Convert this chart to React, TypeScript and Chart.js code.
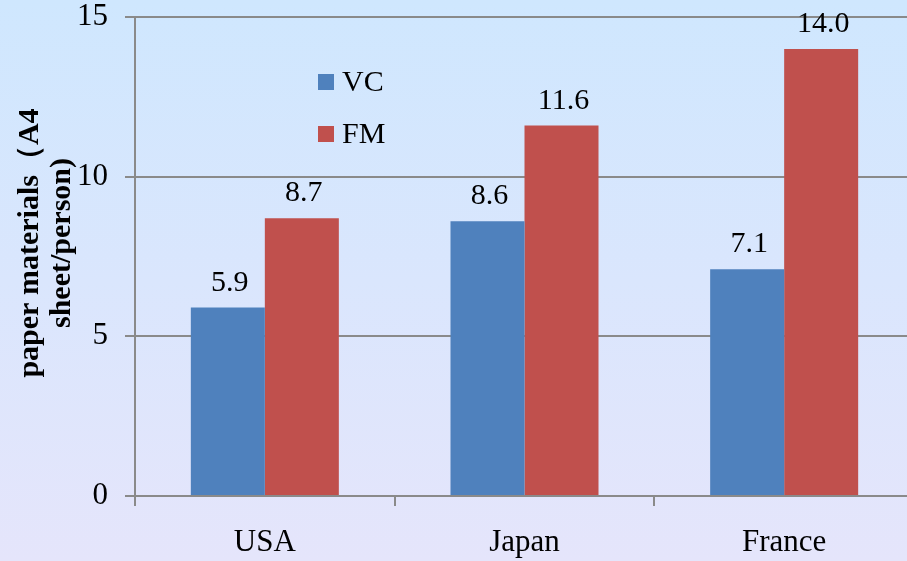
import React, { useEffect, useRef } from "react";
import { Chart, registerables } from "chart.js";

Chart.register(...registerables);

const categories = ["USA", "Japan", "France"];
const seriesNames = ["VC", "FM"];
const vcValues = [5.9, 8.6, 7.1];
const fmValues = [8.7, 11.6, 14.0];
const yTicks = [0, 5, 10, 15];
const yTitleLines = ["paper materials（A4", "sheet/person)"];

const BLUE = "#4f81bd";
const RED = "#c0504d";
const GRID = "#8a8a8a";
const FONT = '"Liberation Serif", "Times New Roman", serif';

const dataLabelPlugin = {
  id: "dataLabels",
  afterDatasetsDraw(chart: any) {
    const ctx = chart.ctx;
    ctx.save();
    ctx.font = `30px ${FONT}`;
    ctx.fillStyle = "#000";
    ctx.textAlign = "center";
    ctx.textBaseline = "alphabetic";
    chart.data.datasets.forEach((ds: any, di: number) => {
      const meta = chart.getDatasetMeta(di);
      meta.data.forEach((bar: any, i: number) => {
        ctx.fillText(Number(ds.data[i]).toFixed(1), bar.x + 2, bar.y - 17);
      });
    });
    ctx.restore();
  },
};

const legendPlugin = {
  id: "insideLegend",
  afterDraw(chart: any) {
    const ctx = chart.ctx;
    ctx.save();
    ctx.font = `30px ${FONT}`;
    ctx.textBaseline = "middle";
    ctx.textAlign = "left";
    chart.data.datasets.forEach((ds: any, di: number) => {
      const cy = 82 + di * 52;
      ctx.fillStyle = ds.backgroundColor;
      ctx.fillRect(318, cy - 8, 16, 16);
      ctx.fillStyle = "#000";
      ctx.fillText(ds.label, 342, cy + 1);
    });
    ctx.restore();
  },
};

const yTitlePlugin = {
  id: "yTitle",
  afterDraw(chart: any) {
    const ctx = chart.ctx;
    ctx.save();
    ctx.translate(0, 243);
    ctx.rotate(-Math.PI / 2);
    ctx.font = `bold 30px ${FONT}`;
    ctx.fillStyle = "#000";
    ctx.textAlign = "center";
    ctx.textBaseline = "middle";
    yTitleLines.forEach((line, i) => {
      ctx.fillText(line, 0, 30 + i * 32);
    });
    ctx.restore();
  },
};

export default function App() {
  const ref = useRef<HTMLCanvasElement>(null);
  useEffect(() => {
    if (!ref.current) return;
    const chart = new Chart(ref.current, {
      type: "bar",
      data: {
        labels: categories,
        datasets: [
          {
            label: seriesNames[0],
            data: vcValues,
            backgroundColor: BLUE,
            borderWidth: 0,
            categoryPercentage: 0.57,
            barPercentage: 1,
          },
          {
            label: seriesNames[1],
            data: fmValues,
            backgroundColor: RED,
            borderWidth: 0,
            categoryPercentage: 0.57,
            barPercentage: 1,
          },
        ],
      },
      options: {
        responsive: false,
        animation: false,
        layout: { padding: { top: 17, left: 0, right: 0, bottom: 0 } },
        plugins: {
          legend: { display: false },
          tooltip: { enabled: false },
          title: { display: false },
        },
        scales: {
          x: {
            offset: true,
            grid: {
              display: true,
              offset: true,
              drawOnChartArea: false,
              drawTicks: true,
              tickLength: 10,
              color: GRID,
              lineWidth: 2,
            },
            border: { display: true, color: GRID, width: 2 },
            ticks: {
              color: "#000",
              font: { family: FONT, size: 31 },
              padding: 18,
              maxRotation: 0,
            },
            afterFit(scale: any) {
              scale.height = 65;
              scale.paddingLeft = 0;
              scale.paddingRight = 0;
            },
          },
          y: {
            min: 0,
            max: 15,
            afterBuildTicks(scale: any) {
              scale.ticks = yTicks.map((v) => ({ value: v }));
            },
            grid: {
              color: GRID,
              lineWidth: 2,
              drawTicks: true,
              tickLength: 10,
            },
            border: { display: true, color: GRID, width: 2 },
            ticks: {
              color: "#000",
              font: { family: FONT, size: 31 },
              padding: 17,
            },
            afterFit(scale: any) {
              scale.width = 135;
              scale.paddingTop = 0;
              scale.paddingBottom = 0;
            },
          },
        },
      },
      plugins: [dataLabelPlugin, legendPlugin, yTitlePlugin],
    });
    return () => chart.destroy();
  }, []);

  return (
    <div
      style={{
        position: "fixed",
        left: 0,
        top: 0,
        width: 907,
        height: 561,
        overflow: "hidden",
        background: "linear-gradient(to bottom, #cfe7fe 0%, #dae6fd 50%, #e5e5fb 100%)",
      }}
    >
      <canvas ref={ref} width={914} height={561} style={{ display: "block" }} />
    </div>
  );
}
